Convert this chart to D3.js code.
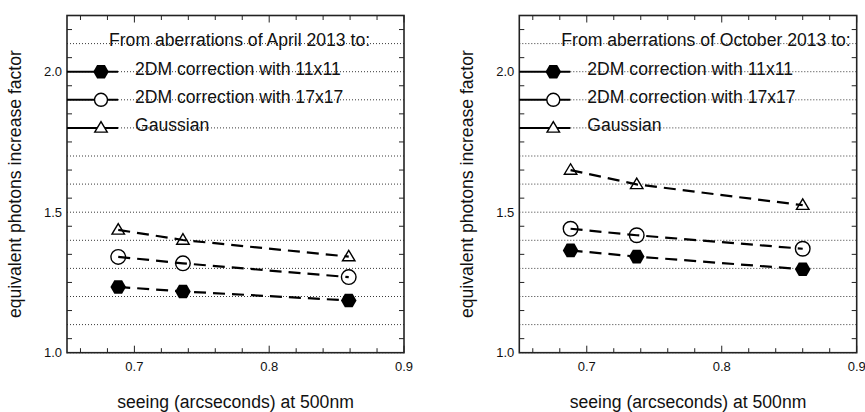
<!DOCTYPE html>
<html>
<head>
<meta charset="utf-8">
<script src="https://cdn.jsdelivr.net/npm/d3@7"></script>
<style>
  body { margin: 0; background: #fff; }
  text { font-family: "Liberation Sans", Arial, Helvetica, sans-serif; fill: #111; }
</style>
</head>
<body>
<div id="chart"></div>
<script>
// ---- DATA ---------------------------------
var seriesNames = ["2DM correction with 11x11", "2DM correction with 17x17", "Gaussian"];
var panelTitles = ["From aberrations of April 2013 to:", "From aberrations of October 2013 to:"];

var aprilSeeing = [0.688, 0.736, 0.859];
var aprilHex = [1.234, 1.218, 1.186];
var aprilCircle = [1.341, 1.318, 1.269];
var aprilTriangle = [1.437, 1.401, 1.342];

var octSeeing = [0.688, 0.737, 0.860];
var octHex = [1.364, 1.342, 1.297];
var octCircle = [1.441, 1.418, 1.370];
var octTriangle = [1.650, 1.599, 1.525];

var xTickLabels = [0.7, 0.8, 0.9];
var yTickLabels = [1.0, 1.5, 2.0];
var legendRows = [2.0, 1.9, 1.8];

var xTitle = "seeing (arcseconds) at 500nm";
var yTitle = "equivalent photons increase factor";

// ---- SVG ----------------------------------
var W = 865, H = 412;
var svg = d3.select("#chart").append("svg")
    .attr("width", W)
    .attr("height", H);

// hexagon / triangle paths centred on 0,0
function hexPath(rx, ry) {
    var pts = [[-rx, 0], [-rx / 2, -ry], [rx / 2, -ry], [rx, 0], [rx / 2, ry], [-rx / 2, ry]];
    return d3.line()(pts) + "Z";
}
function triPath(w, h) {
    var pts = [[0, -h * 0.6], [w / 2, h * 0.4], [-w / 2, h * 0.4]];
    return d3.line()(pts) + "Z";
}

function drawMarker(g, kind, x, y, small) {
    if (kind == 0) {
        g.append("path").attr("d", hexPath(7.8, 6.8))
            .attr("transform", "translate(" + x + "," + y + ")")
            .attr("fill", "#000");
    } else if (kind == 1) {
        g.append("circle").attr("cx", x).attr("cy", y).attr("r", small ? 6.5 : 7.3)
            .attr("fill", "#fff").attr("stroke", "#000").attr("stroke-width", 1.4);
    } else {
        g.append("path").attr("d", triPath(12.5, 10.5))
            .attr("transform", "translate(" + x + "," + y + ")")
            .attr("fill", "#fff").attr("stroke", "#000").attr("stroke-width", 1.4);
    }
}

function panel(left, right, title, seeing, series) {
    var top = 15.5, bottom = 352.7;
    var x = d3.scaleLinear().domain([0.65, 0.9]).range([left, right]);
    var y = d3.scaleLinear().domain([1.0, 2.2]).range([bottom, top]);
    var g = svg.append("g");

    // dotted grid every 0.1
    var grid = d3.range(10, 22).map(function (d) { return d / 10; });
    g.selectAll(".grid").data(grid).enter().append("line")
        .attr("x1", left).attr("x2", right)
        .attr("y1", function (d) { return y(d); })
        .attr("y2", function (d) { return y(d); })
        .attr("stroke", "#222")
        .attr("stroke-width", 0.9)
        .attr("stroke-dasharray", "1,2");

    // minor y ticks (odd 0.05), inward on both sides
    var yMinor = d3.range(0, 12).map(function (d) { return 1.05 + d / 10; });
    yMinor.forEach(function (v) {
        g.append("line").attr("x1", left).attr("x2", left + 5)
            .attr("y1", y(v)).attr("y2", y(v)).attr("stroke", "#222").attr("stroke-width", 1);
        g.append("line").attr("x1", right).attr("x2", right - 5)
            .attr("y1", y(v)).attr("y2", y(v)).attr("stroke", "#222").attr("stroke-width", 1);
    });

    // x ticks every 0.02, major at 0.1
    var xt = d3.range(0, 13).map(function (d) { return Math.round((0.66 + d * 0.02) * 100) / 100; });
    xt.forEach(function (v) {
        var major = Math.abs(v * 10 - Math.round(v * 10)) < 1e-6;
        var len = major ? 7 : 4.5;
        g.append("line").attr("x1", x(v)).attr("x2", x(v))
            .attr("y1", bottom).attr("y2", bottom - len).attr("stroke", "#222").attr("stroke-width", 1);
        g.append("line").attr("x1", x(v)).attr("x2", x(v))
            .attr("y1", top).attr("y2", top + len).attr("stroke", "#222").attr("stroke-width", 1);
    });

    // frame
    g.append("rect").attr("x", left).attr("y", top)
        .attr("width", right - left).attr("height", bottom - top)
        .attr("fill", "none").attr("stroke", "#222").attr("stroke-width", 1.6);

    // tick labels
    g.selectAll(".xl").data(xTickLabels).enter().append("text")
        .attr("x", function (d) { return x(d); })
        .attr("y", 370.5)
        .attr("text-anchor", "middle")
        .style("font-size", "13px")
        .text(function (d) { return d.toFixed(1); });
    g.selectAll(".yl").data(yTickLabels).enter().append("text")
        .attr("x", left - 5)
        .attr("y", function (d) { return y(d) + 4.5; })
        .attr("text-anchor", "end")
        .style("font-size", "13px")
        .text(function (d) { return d.toFixed(1); });

    // axis titles
    g.append("text")
        .attr("x", (left + right) / 2).attr("y", 408)
        .attr("text-anchor", "middle")
        .style("font-size", "17.6px")
        .text(xTitle);
    g.append("text")
        .attr("transform", "translate(" + (left - 46) + "," + ((top + bottom) / 2) + ") rotate(-90)")
        .attr("text-anchor", "middle")
        .style("font-size", "17.6px")
        .text(yTitle);

    // legend
    g.append("text")
        .attr("x", left + 42).attr("y", y(2.1) + 2)
        .style("font-size", "17.6px")
        .text(title);
    legendRows.forEach(function (v, i) {
        g.append("line").attr("x1", left).attr("x2", left + 51)
            .attr("y1", y(v)).attr("y2", y(v))
            .attr("stroke", "#000").attr("stroke-width", 2);
        drawMarker(g, i, left + 34, y(v), true);
        g.append("text")
            .attr("x", left + 68).attr("y", y(v) + 3.5)
            .style("font-size", "17.6px")
            .text(seriesNames[i]);
    });

    // markers then dashed lines on top
    series.forEach(function (vals, k) {
        vals.forEach(function (v, i) {
            drawMarker(g, k, x(seeing[i]), y(v), false);
        });
    });
    var line = d3.line()
        .x(function (d) { return x(d[0]); })
        .y(function (d) { return y(d[1]); });
    series.forEach(function (vals) {
        g.append("path")
            .attr("d", line(vals.map(function (v, i) { return [seeing[i], v]; })))
            .attr("fill", "none")
            .attr("stroke", "#000")
            .attr("stroke-width", 2.2)
            .attr("stroke-dasharray", "12,7");
    });
}

panel(67, 404, panelTitles[0], aprilSeeing, [aprilHex, aprilCircle, aprilTriangle]);
panel(519.3, 856.7, panelTitles[1], octSeeing, [octHex, octCircle, octTriangle]);
</script>
</body>
</html>
